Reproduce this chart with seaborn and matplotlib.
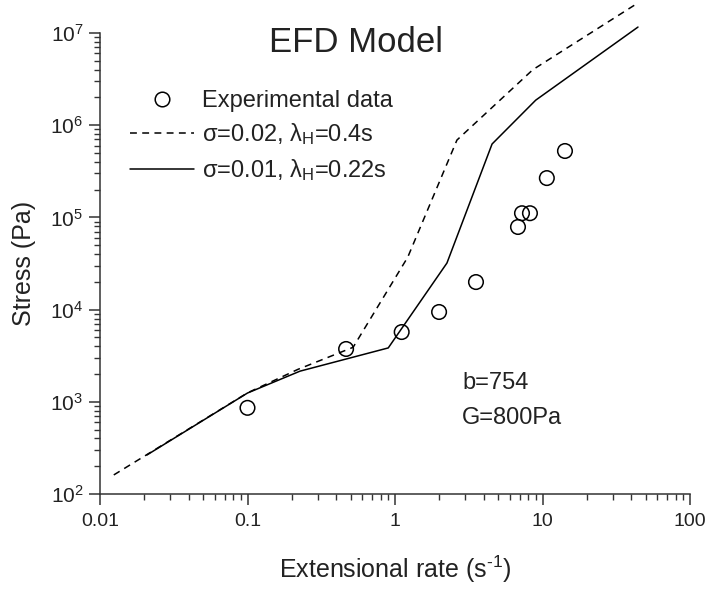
import matplotlib
matplotlib.use("Agg")
import matplotlib.pyplot as plt
import matplotlib.ticker as mticker
from matplotlib.lines import Line2D
import seaborn as sns
import numpy as np
import pandas as pd

# ---- data ----
exp_rate = [0.1, 0.466, 1.11, 1.99, 3.54, 6.82, 7.26, 8.22, 10.7, 14.2]
exp_stress = [860, 3740, 5710, 9420, 19900, 78700, 111000, 111000, 267000, 525000]

dash_rate = [0.0124, 0.1, 0.22, 0.52, 1.22, 2.63, 8.6, 44.0]
dash_stress = [161, 1250, 2250, 3900, 37000, 690000, 4.0e6, 2.1e7]

solid_rate = [0.0208, 0.1, 0.227, 0.9, 2.25, 4.55, 9.0, 44.4]
solid_stress = [265, 1245, 2150, 3840, 32000, 625000, 1.87e6, 1.16e7]

x_ticks = [0.01, 0.1, 1, 10, 100]
x_tick_labels = ["0.01", "0.1", "1", "10", "100"]
y_ticks = [1e2, 1e3, 1e4, 1e5, 1e6, 1e7]

legend_labels = ["Experimental data",
                 r"σ=0.02, $\mathrm{λ}_\mathrm{H}$=0.4s",
                 r"σ=0.01, $\mathrm{λ}_\mathrm{H}$=0.22s"]

# ---- style ----
sns.set_style("ticks")
plt.rcParams['font.family'] = ['Liberation Sans', 'DejaVu Sans']
plt.rcParams['mathtext.fontset'] = 'custom'
plt.rcParams['mathtext.rm'] = 'Liberation Sans'
plt.rcParams['mathtext.it'] = 'Liberation Sans:italic'
plt.rcParams['mathtext.bf'] = 'Liberation Sans:bold'

fig = plt.figure(figsize=(7.11, 5.90), dpi=100)
ax = fig.add_axes([100/711, 1-494/590, 590/711, 461/590])

df_dash = pd.DataFrame({"rate": dash_rate, "stress": dash_stress})
df_solid = pd.DataFrame({"rate": solid_rate, "stress": solid_stress})
df_exp = pd.DataFrame({"rate": exp_rate, "stress": exp_stress})

sns.lineplot(data=df_dash, x="rate", y="stress", ax=ax, color="black",
             linewidth=1.1, sort=False, estimator=None, clip_on=False,
             dashes=False)
sns.lineplot(data=df_solid, x="rate", y="stress", ax=ax, color="black",
             linewidth=1.1, sort=False, estimator=None, clip_on=False)
ax.lines[0].set_dashes((4.5, 3.5))
sns.scatterplot(data=df_exp, x="rate", y="stress", ax=ax, marker="o",
                s=110, facecolor="none", edgecolor="black", linewidth=1.1,
                zorder=3)

ax.set_xscale("log")
ax.set_yscale("log")
ax.set_xlim(0.01, 100)
ax.set_ylim(1e2, 1e7)

ax.xaxis.set_major_locator(mticker.FixedLocator(x_ticks))
ax.xaxis.set_major_formatter(mticker.FixedFormatter(x_tick_labels))
ax.xaxis.set_minor_locator(mticker.LogLocator(base=10, subs=np.arange(2, 10)))
ax.xaxis.set_minor_formatter(mticker.NullFormatter())
ax.yaxis.set_major_locator(mticker.FixedLocator(y_ticks))
ax.yaxis.set_major_formatter(mticker.LogFormatterMathtext())
ax.yaxis.set_minor_locator(mticker.LogLocator(base=10, subs=np.arange(2, 10)))
ax.yaxis.set_minor_formatter(mticker.NullFormatter())

ax.tick_params(which="major", direction="out", length=8, width=1.1,
               labelsize=14, color="#333333", labelcolor="#222222", pad=6)
ax.tick_params(axis="y", which="major", labelsize=15, pad=4)
ax.tick_params(which="minor", direction="out", length=4, width=1.0,
               color="#333333")

sns.despine(ax=ax)
for s in ["left", "bottom"]:
    ax.spines[s].set_linewidth(1.1)
    ax.spines[s].set_color("#333333")

ax.set_xlabel("Extensional rate (s$^{\\text{-1}}$)", fontsize=18,
              color="#222222", labelpad=17)
ax.set_ylabel("Stress (Pa)", fontsize=18, color="#222222", labelpad=10)

ax.text(0.434, 0.979, "EFD Model", transform=ax.transAxes, ha="center",
        va="center", fontsize=25, color="#222222")

ax.text(362/590, (494-383)/461, "b=754", transform=ax.transAxes,
        ha="left", va="center", fontsize=17, color="#222222")
ax.text(362/590, (494-418)/461, "G=800Pa", transform=ax.transAxes,
        ha="left", va="center", fontsize=17, color="#222222")

handles = [
    Line2D([], [], linestyle="none", marker="o", markersize=10.5,
           markerfacecolor="none", markeredgecolor="black",
           markeredgewidth=1.1),
    Line2D([], [], color="black", linewidth=1.1, dashes=(4.5, 3.5)),
    Line2D([], [], color="black", linewidth=1.1),
]
leg = ax.legend(handles, legend_labels, loc="upper left",
                bbox_to_anchor=(30/590, (494-90)/461), frameon=False,
                fontsize=17, handlelength=2.7, handletextpad=0.35,
                borderaxespad=0, borderpad=0, labelspacing=0.4)
for t in leg.get_texts():
    t.set_color("#222222")

fig.savefig("out.png", dpi=100)
